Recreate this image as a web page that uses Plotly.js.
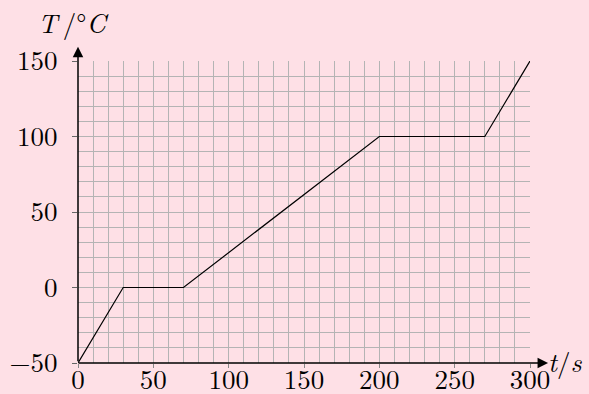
<!DOCTYPE html>
<html><head><meta charset="utf-8">
<script src="https://cdn.plot.ly/plotly-3.0.1.min.js"></script>
<style>html,body{margin:0;padding:0;background:#fee0e6;}</style>
</head><body>
<div id="chart" style="width:589px;height:394px;"></div>
<script>
const timeS = [0, 30, 70, 200, 270, 300];
const tempC = [-50, 0, 0, 100, 100, 150];
const xTicks = [0, 50, 100, 150, 200, 250, 300];
const yTicks = [-50, 0, 50, 100, 150];
const xTickText = ['0', '50', '100', '150', '200', '250', '300'];
const yTickText = ['\u221250', '0', '50', '100', '150'];

const font = {family: 'Latin Modern Roman, DejaVu Serif, serif', size: 27, color: '#000'};
const bg = '#fee0e6';

const trace = {
  x: timeS, y: tempC, mode: 'lines', type: 'scatter',
  line: {color: '#000', width: 1.2}, hoverinfo: 'none', cliponaxis: false
};

const layout = {
  width: 589, height: 394,
  paper_bgcolor: bg, plot_bgcolor: bg,
  margin: {l: 78, r: 59, t: 61, b: 31},
  showlegend: false,
  font: font,
  xaxis: {
    range: [0, 300], tickvals: xTicks, ticktext: xTickText,
    ticks: 'outside', ticklen: 4, tickcolor: '#888', tickwidth: 1,
    ticklabelstandoff: -11,
    showgrid: true, gridcolor: '#b4b4b4', gridwidth: 1,
    minor: {tickvals: [10,20,30,40,60,70,80,90,110,120,130,140,160,170,180,190,210,220,230,240,260,270,280,290], showgrid: true, gridcolor: '#b4b4b4', gridwidth: 1, ticks: ''},
    showline: false, zeroline: false, tickfont: font, fixedrange: true
  },
  yaxis: {
    range: [-50, 150], tickvals: yTicks, ticktext: yTickText,
    ticks: 'outside', ticklen: 5, tickcolor: '#666', tickwidth: 1,
    ticklabelstandoff: 9,
    showgrid: true, gridcolor: '#b4b4b4', gridwidth: 1,
    minor: {tickvals: [-40,-30,-20,-10,10,20,30,40,60,70,80,90,110,120,130,140], showgrid: true, gridcolor: '#b4b4b4', gridwidth: 1, ticks: ''},
    showline: false, zeroline: false, tickfont: font, fixedrange: true
  },
  annotations: [
    {xref: 'paper', yref: 'paper', x: 1.04, y: 0, ax: -471, ay: 0,
     showarrow: true, arrowhead: 2, arrowsize: 1.4, arrowwidth: 1.5, arrowcolor: '#000', text: ''},
    {xref: 'paper', yref: 'paper', x: 0, y: 1.047, ax: 0, ay: 316,
     showarrow: true, arrowhead: 2, arrowsize: 1.4, arrowwidth: 1.5, arrowcolor: '#000', text: ''},
    {xref: 'paper', yref: 'paper', x: 1.035, y: 0, xanchor: 'left', yanchor: 'middle', yshift: 2,
     showarrow: false, text: '<i>t</i>/<i>s</i>', font: font},
    {xref: 'paper', yref: 'paper', x: -0.01, y: 1.06, xanchor: 'center', yanchor: 'bottom',
     showarrow: false, text: '<i>T</i>\u2009/°<i>C</i>', font: font}
  ]
};

Plotly.newPlot('chart', [trace], layout, {displayModeBar: false, staticPlot: true});
</script>
</body></html>
